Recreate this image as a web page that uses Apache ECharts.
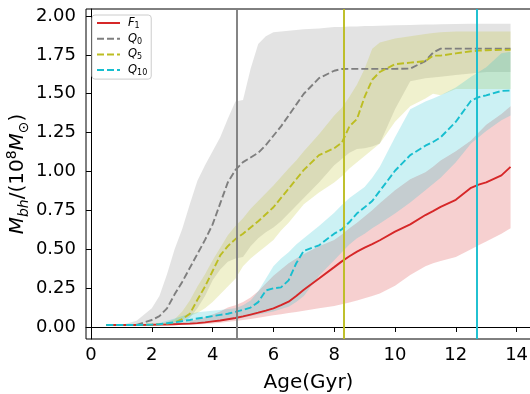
<!DOCTYPE html>
<html><head><meta charset="utf-8">
<script src="https://cdn.jsdelivr.net/npm/echarts@6/dist/echarts.min.js"></script>
<style>html,body{margin:0;padding:0;background:#fff}#c{width:530px;height:394px}</style>
</head><body><div id="c"></div>
<script>
// ---- data ----
const ages = [0.5,1.0,1.5,2.0,2.25,2.5,2.75,3.0,3.25,3.5,3.75,4.0,4.25,4.5,4.75,5.0,5.25,5.5,5.75,6.0,6.25,6.5,6.75,7.0,7.5,8.0,8.25,8.5,8.75,9.0,9.25,9.5,10.0,10.5,11.0,11.25,11.5,12.0,12.5,12.75,13.0,13.5,13.8];

const f1Mean = [.013,.013,.013,.014,.015,.016,.018,.02,.022,.025,.03,.036,.042,.05,.058,.068,.08,.092,.105,.12,.14,.163,.2,.24,.312,.385,.422,.455,.485,.51,.533,.558,.613,.66,.72,.745,.772,.818,.895,.915,.93,.975,1.03];
const f1Lo   = [.012,.012,.012,.012,.012,.013,.013,.013,.014,.016,.019,.022,.027,.033,.039,.045,.052,.06,.067,.075,.082,.09,.097,.105,.12,.135,.146,.158,.17,.185,.2,.215,.265,.335,.39,.41,.425,.45,.50,.525,.55,.60,.635];
const f1Hi   = [.013,.013,.015,.018,.02,.022,.026,.03,.038,.05,.063,.08,.10,.125,.14,.16,.19,.23,.28,.33,.37,.41,.44,.47,.52,.56,.595,.635,.67,.71,.75,.795,.88,.95,.995,1.03,1.07,1.13,1.20,1.25,1.30,1.37,1.42];

const q0Mean = [.013,.013,.014,.045,.07,.12,.21,.29,.38,.47,.56,.66,.795,.93,1.01,1.06,1.09,1.12,1.17,1.23,1.29,1.36,1.43,1.50,1.60,1.648,1.659,1.66,1.66,1.66,1.66,1.66,1.66,1.662,1.71,1.765,1.79,1.79,1.79,1.79,1.79,1.79,1.79];
const q0Lo   = [.012,.012,.012,.013,.014,.016,.02,.03,.06,.12,.20,.30,.37,.42,.44,.45,.52,.57,.61,.64,.68,.73,.78,.83,.93,1.04,1.08,1.12,1.145,1.15,1.16,1.18,1.40,1.58,1.60,1.605,1.61,1.62,1.63,1.635,1.64,1.64,1.64];
const q0Hi   = [.013,.013,.04,.12,.2,.34,.5,.63,.79,.94,1.04,1.13,1.22,1.34,1.45,1.46,1.66,1.82,1.87,1.895,1.90,1.905,1.91,1.915,1.92,1.93,1.93,1.932,1.933,1.935,1.936,1.937,1.94,1.942,1.945,1.946,1.947,1.948,1.95,1.95,1.95,1.95,1.95];

const q5Mean = [.013,.013,.013,.015,.018,.022,.03,.05,.085,.175,.26,.36,.46,.52,.565,.60,.64,.68,.725,.77,.83,.89,.95,1.01,1.105,1.15,1.185,1.29,1.338,1.48,1.59,1.64,1.69,1.70,1.71,1.745,1.745,1.76,1.773,1.777,1.78,1.782,1.783];
const q5Lo   = [.012,.012,.012,.013,.015,.018,.03,.05,.07,.09,.12,.16,.21,.26,.31,.39,.44,.48,.52,.56,.62,.67,.73,.79,.865,.93,.97,1.02,1.06,1.10,1.14,1.18,1.32,1.42,1.47,1.50,1.49,1.53,1.53,1.53,1.53,1.53,1.53];
const q5Hi   = [.013,.013,.014,.016,.02,.03,.05,.1,.17,.26,.34,.43,.51,.59,.65,.70,.76,.81,.86,.91,.965,1.02,1.07,1.13,1.24,1.36,1.41,1.48,1.56,1.66,1.79,1.83,1.855,1.87,1.885,1.89,1.895,1.90,1.90,1.90,1.90,1.90,1.90];

const q10Mean = [.013,.013,.013,.015,.018,.024,.03,.038,.045,.055,.062,.07,.078,.085,.097,.11,.125,.16,.235,.249,.255,.30,.41,.49,.525,.60,.628,.675,.731,.77,.81,.875,1.005,1.105,1.166,1.19,1.22,1.32,1.455,1.478,1.49,1.518,1.52];
const q10Lo   = [.012,.012,.012,.013,.013,.014,.015,.015,.017,.02,.025,.03,.037,.045,.052,.06,.07,.08,.09,.10,.115,.13,.16,.20,.33,.43,.48,.53,.57,.60,.635,.665,.73,.80,.88,.92,.96,1.06,1.18,1.22,1.26,1.33,1.36];
const q10Hi   = [.013,.013,.014,.016,.025,.04,.055,.07,.085,.095,.10,.105,.11,.115,.12,.14,.17,.23,.31,.39,.44,.48,.53,.57,.65,.735,.785,.83,.865,.90,.96,1.03,1.22,1.40,1.45,1.47,1.49,1.54,1.61,1.64,1.67,1.76,1.77];

const xTicks = [0,2,4,6,8,10,12,14];
const yTicks = [0,0.25,0.5,0.75,1.0,1.25,1.5,1.75,2.0];
const vLines = [4.8, 8.3, 12.7];   // gray, olive, cyan
const groups = [
  {name:'F1',  mean:f1Mean,  lo:f1Lo,  hi:f1Hi,  color:'#d62728', dash:'solid'},
  {name:'Q0',  mean:q0Mean,  lo:q0Lo,  hi:q0Hi,  color:'#7f7f7f', dash:[7,3]},
  {name:'Q5',  mean:q5Mean,  lo:q5Lo,  hi:q5Hi,  color:'#bcbd22', dash:[7,3]},
  {name:'Q10', mean:q10Mean, lo:q10Lo, hi:q10Hi, color:'#17becf', dash:[7,3]}
];
const vColors = ['#7f7f7f','#bcbd22','#17becf'];

// ---- chart ----
const FONT = 'DejaVu Sans';
const series = [];
groups.forEach((g, k) => {
  const rows = ages.map((a, i) => [a, g.lo[i], g.hi[i]]);
  series.push({
    name: g.name + '_band', type: 'custom', silent: true, z: 1, clip: true,
    data: rows, encode: {x: 0, y: [1, 2]},
    renderItem: (params, api) => {
      if (params.dataIndex !== 0) return null;
      const top = rows.map(r => api.coord([r[0], r[2]]));
      const bot = rows.map(r => api.coord([r[0], r[1]])).reverse();
      return {type: 'polygon', shape: {points: top.concat(bot)},
              style: {fill: g.color, opacity: 0.22, stroke: null}};
    }
  });
});
groups.forEach(g => {
  series.push({
    name: g.name, type: 'line', symbol: 'none', silent: true,
    data: ages.map((a, i) => [a, g.mean[i]]),
    lineStyle: {color: g.color, width: 1.9, type: g.dash}, itemStyle: {color: g.color}, z: 4
  });
});
series.push({
  name: 'vlines', type: 'line', data: [], silent: true, z: 3,
  markLine: {
    symbol: 'none', silent: true, animation: false, label: {show: false},
    data: vLines.map((v, i) => ({xAxis: v, lineStyle: {color: vColors[i], width: 1.9, type: 'solid'}}))
  }
});

const chart = echarts.init(document.getElementById('c'), null, {renderer: 'canvas'});
chart.setOption({
  animation: false,
  textStyle: {fontFamily: FONT},
  grid: {left: 86, right: -1, top: 9, bottom: 55, show: true, borderColor: '#000', borderWidth: 1,
         backgroundColor: 'transparent', containLabel: false, outerBoundsMode: 'none'},
  xAxis: {
    type: 'value', min: -0.165, max: 14.473,
    axisLine: {lineStyle: {color: '#000', width: 1}},
    axisTick: {customValues: xTicks, length: 5, lineStyle: {color: '#000'}},
    axisLabel: {customValues: xTicks, color: '#000', fontSize: 18, fontFamily: FONT, margin: 7},
    splitLine: {show: false},
    name: 'Age(Gyr)', nameLocation: 'middle', nameGap: 34, nameMoveOverlap: false,
    nameTextStyle: {color: '#000', fontSize: 20, fontFamily: FONT}
  },
  yAxis: {
    type: 'value', min: -0.0772, max: 2.045,
    axisLine: {lineStyle: {color: '#000', width: 1}},
    axisTick: {customValues: yTicks, length: 5, lineStyle: {color: '#000'}},
    axisLabel: {customValues: yTicks, color: '#000', fontSize: 18, fontFamily: FONT, margin: 10,
      formatter: v => v.toFixed(2)},
    splitLine: {show: false},
    name: '{i|M}{sb|bh}{n|/(10}{sp|8}{i|M}{sb|⊙}{n|)}', nameLocation: 'middle', nameGap: 55, nameMoveOverlap: false,
    nameTextStyle: {color: '#000', fontFamily: FONT, rich: {
      i: {fontSize: 20, fontStyle: 'italic', lineHeight: 26, fontFamily: FONT, color: '#000'},
      n: {fontSize: 20, lineHeight: 26, fontFamily: FONT, color: '#000'},
      sb: {fontSize: 14, fontStyle: 'italic', lineHeight: 12, verticalAlign: 'bottom', fontFamily: FONT, color: '#000'},
      sp: {fontSize: 14, lineHeight: 12, verticalAlign: 'top', fontFamily: FONT, color: '#000'}
    }}
  },
  legend: {
    data: groups.map(g => g.name), orient: 'vertical', left: 92, top: 15,
    padding: [2, 4, 2, 4], itemWidth: 23, itemHeight: 14, itemGap: 2.7,
    backgroundColor: 'rgba(255,255,255,0.8)', borderColor: '#cccccc', borderWidth: 1, borderRadius: 3,
    selectedMode: false, z: 10, itemStyle: {opacity: 0},
    formatter: n => '{i|' + n[0] + '}{s|' + n.slice(1) + '}',
    textStyle: {fontFamily: FONT, rich: {
      i: {fontSize: 11.5, fontStyle: 'italic', lineHeight: 14, fontFamily: FONT, color: '#000', padding: [0,0,0,3]},
      s: {fontSize: 8, lineHeight: 6, verticalAlign: 'bottom', fontFamily: FONT, color: '#000'}
    }}
  },
  series: series
});
</script></body></html>
